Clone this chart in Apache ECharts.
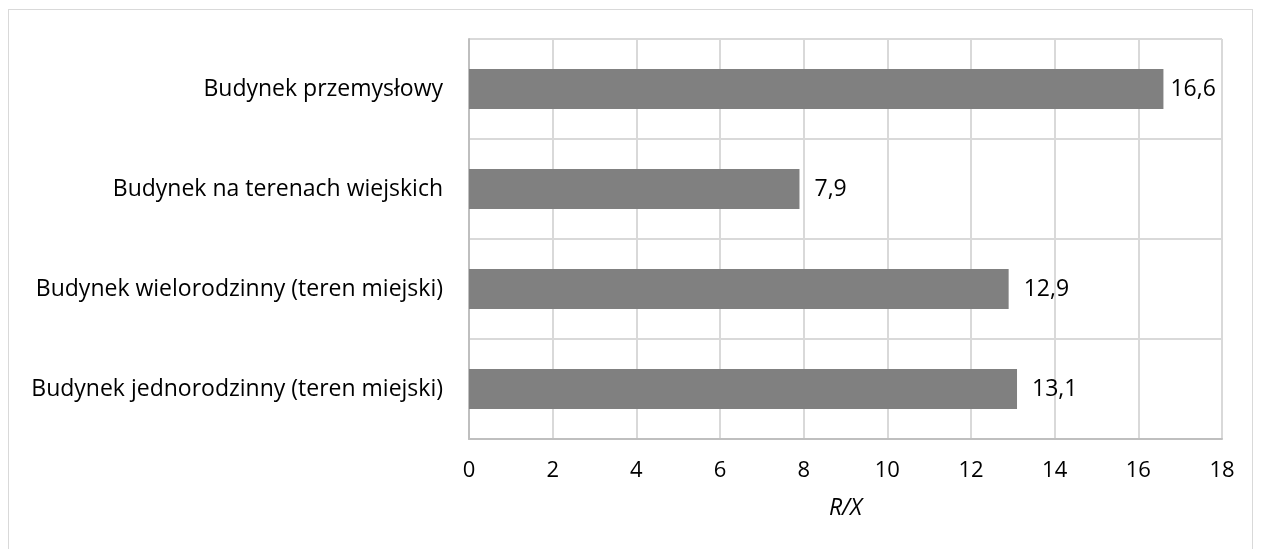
<!DOCTYPE html>
<html><head><meta charset="utf-8">
<script src="https://cdn.jsdelivr.net/npm/echarts@6/dist/echarts.min.js"></script>
<style>html,body{margin:0;padding:0;background:#fff}#c{width:1264px;height:549px}
#frame{position:absolute;left:8px;top:9px;width:1245px;height:560px;border:1px solid #d9d9d9;box-sizing:border-box;pointer-events:none}</style>
</head><body><div id="c"></div><div id="frame"></div>
<script>
const categories = ["Budynek jednorodzinny (teren miejski)", "Budynek wielorodzinny (teren miejski)", "Budynek na terenach wiejskich", "Budynek przemysłowy"];
const values = [13.1, 12.9, 7.9, 16.6];
const xTicks = {min: 0, max: 18, interval: 2};
const axisTitle = "R/X";
const font = "'Open Sans', sans-serif";
const chart = echarts.init(document.getElementById('c'), null, {renderer: 'canvas'});
chart.setOption({
  animation: false,
  textStyle: {fontFamily: font},
  grid: {left: 469, right: 42, top: 39, bottom: 110},
  xAxis: {
    type: 'value', min: xTicks.min, max: xTicks.max, interval: xTicks.interval,
    name: axisTitle, nameLocation: 'middle', nameGap: 58,
    nameTextStyle: {fontStyle: 'italic', fontSize: 23, color: '#000', fontFamily: font},
    axisLine: {show: true, lineStyle: {color: '#bfbfbf', width: 2}},
    axisTick: {show: false},
    axisLabel: {fontSize: 22, color: '#000', margin: 21, fontFamily: font},
    splitLine: {show: true, lineStyle: {color: '#d9d9d9', width: 2}}
  },
  yAxis: {
    type: 'category', data: categories,
    axisLine: {show: true, lineStyle: {color: '#bfbfbf', width: 2}},
    axisTick: {show: false},
    axisLabel: {fontSize: 23, color: '#000', margin: 26, fontFamily: font},
    splitLine: {show: true, lineStyle: {color: '#d9d9d9', width: 2}}
  },
  series: [{
    type: 'bar',
    data: values.map((v, i) => i === 3 ? {value: v, label: {distance: 7}} : v),
    barWidth: '40%',
    itemStyle: {color: '#808080'},
    label: {show: true, position: 'right', distance: 15, fontSize: 23, color: '#000', fontFamily: font,
      formatter: p => String(p.value).replace('.', ',')}
  }]
});
</script></body></html>
